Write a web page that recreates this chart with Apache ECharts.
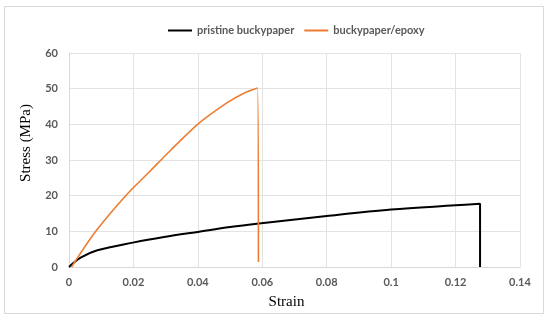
<!DOCTYPE html>
<html>
<head>
<meta charset="utf-8">
<script src="https://cdn.jsdelivr.net/npm/echarts@6/dist/echarts.min.js"></script>
<style>
  html, body { margin: 0; padding: 0; background: #fff; }
  #chart { width: 550px; height: 320px; }
</style>
</head>
<body>
<div id="chart"></div>
<script>
// values
const pristineStrain = [0, 0.0036, 0.0088, 0.0202, 0.0295, 0.0404, 0.05, 0.059, 0.08, 0.1, 0.12, 0.1276, 0.1276];
const pristineStress = [0, 2.6, 4.7, 6.9, 8.4, 9.9, 11.2, 12.2, 14.3, 16.1, 17.3, 17.75, 0];

const epoxyStrain = [0.0008, 0.0083, 0.0176, 0.0252, 0.0314, 0.0402, 0.049, 0.054, 0.0585, 0.0588];
const epoxyStress = [0, 10, 20, 26.9, 32.6, 40.2, 46.0, 48.6, 50.2, 1.4];

const seriesNames = ['pristine buckypaper', 'buckypaper/epoxy'];

function pairs(xs, ys) {
    return xs.map((x, i) => [x, ys[i]]);
}

const labelFont = { color: '#595959', fontFamily: 'Lato', fontSize: 11, fontWeight: 'bold' };

const chart = echarts.init(document.getElementById('chart'));
chart.setOption({
    backgroundColor: '#fff',
    animation: false,
    graphic: [{
        type: 'rect',
        shape: { x: 4.5, y: 6.5, width: 539, height: 307 },
        style: { fill: 'none', stroke: '#d9d9d9', lineWidth: 1 }
    }],
    legend: {
        top: 20,
        left: 163,
        itemWidth: 24,
        itemHeight: 2,
        itemGap: 10,
        icon: 'rect',
        textStyle: { color: '#595959', fontFamily: 'Lato', fontSize: 11, fontWeight: 'bold' },
        data: seriesNames
    },
    grid: { left: 69, right: 30, top: 53, bottom: 53 },
    xAxis: {
        type: 'value',
        min: 0,
        max: 0.14,
        interval: 0.02,
        name: 'Strain',
        nameLocation: 'middle',
        nameGap: 28,
        nameTextStyle: { color: '#000', fontFamily: 'Liberation Serif', fontSize: 15, padding: [0, 16, 0, 0] },
        axisLine: { show: true, lineStyle: { color: '#d9d9d9' } },
        axisTick: { show: false },
        splitLine: { show: true, lineStyle: { color: '#e3e3e3' } },
        axisLabel: Object.assign({ margin: 10, formatter: v => String(+v.toFixed(2)) }, labelFont)
    },
    yAxis: {
        type: 'value',
        min: 0,
        max: 60,
        interval: 10,
        name: 'Stress (MPa)',
        nameLocation: 'middle',
        nameGap: 35,
        nameTextStyle: { color: '#000', fontFamily: 'Liberation Serif', fontSize: 15, padding: [0, 0, 0, 34] },
        axisLine: { show: true, lineStyle: { color: '#d9d9d9' } },
        axisTick: { show: false },
        splitLine: { show: true, lineStyle: { color: '#e3e3e3' } },
        axisLabel: Object.assign({ margin: 11 }, labelFont)
    },
    series: [
        {
            name: seriesNames[0],
            type: 'line',
            data: pairs(pristineStrain, pristineStress),
            showSymbol: false,
            smooth: 0.35,
            lineStyle: { color: '#000', width: 2 },
            itemStyle: { color: '#000' }
        },
        {
            name: seriesNames[1],
            type: 'line',
            data: pairs(epoxyStrain, epoxyStress),
            showSymbol: false,
            smooth: 0.3,
            lineStyle: { color: '#ed7d31', width: 1.6 },
            itemStyle: { color: '#ed7d31' }
        }
    ]
});
</script>
</body>
</html>
